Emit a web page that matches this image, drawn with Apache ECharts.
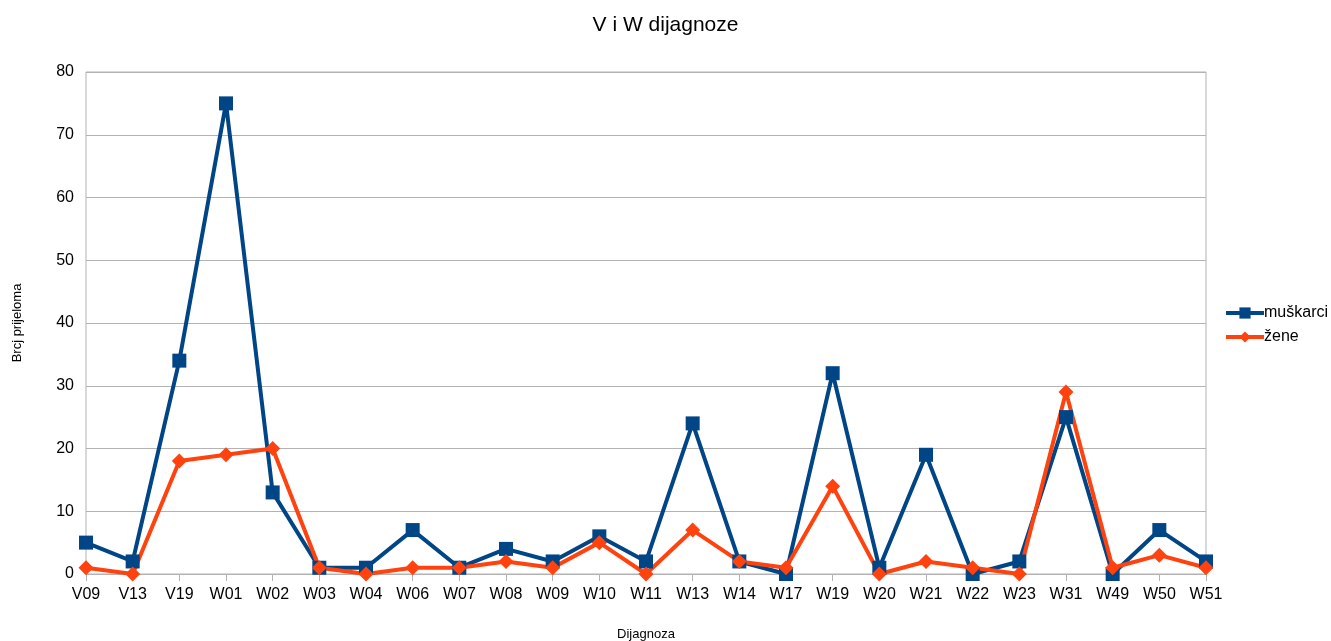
<!DOCTYPE html>
<html>
<head>
<meta charset="utf-8">
<script src="https://cdn.jsdelivr.net/npm/echarts@6/dist/echarts.min.js"></script>
<style>
  html, body { margin: 0; padding: 0; background: #fff; }
  #main { width: 1331px; height: 641px; }
</style>
</head>
<body>
<div id="main"></div>
<script>
var categories = ['V09', 'V13', 'V19', 'W01', 'W02', 'W03', 'W04', 'W06', 'W07', 'W08', 'W09', 'W10', 'W11',
  'W13', 'W14', 'W17', 'W19', 'W20', 'W21', 'W22', 'W23', 'W31', 'W49', 'W50', 'W51'];
var muskarci = [5, 2, 34, 75, 13, 1, 1, 7, 1, 4, 2, 6, 2, 24, 2, 0, 32, 1, 19, 0, 2, 25, 0, 7, 2];
var zene = [1, 0, 18, 19, 20, 1, 0, 1, 1, 2, 1, 5, 0, 7, 2, 1, 14, 0, 2, 1, 0, 29, 1, 3, 1];
var yTicks = { min: 0, max: 80, interval: 10 };

var chart = echarts.init(document.getElementById('main'));
var font = 'Liberation Sans, Arial, sans-serif';

var option = {
  animation: false,
  textStyle: { fontFamily: font },
  title: {
    text: 'V i W dijagnoze',
    left: 'center',
    top: 10,
    textStyle: { fontFamily: font, fontSize: 21, fontWeight: 'normal', color: '#000' }
  },
  legend: {
    orient: 'vertical',
    left: 1219,
    top: 300,
    itemGap: 8,
    itemWidth: 38,
    itemHeight: 14,
    lineStyle: { width: 4 },
    textStyle: { fontFamily: font, fontSize: 16, color: '#000', padding: [0, 0, 0, -5] },
    data: ['muškarci', 'žene']
  },
  grid: {
    left: 86, right: 125, top: 72, bottom: 67,
    outerBoundsMode: 'none',
    show: true, borderColor: '#b3b3b3', borderWidth: 1
  },
  xAxis: {
    type: 'category',
    data: categories,
    boundaryGap: false,
    name: 'Dijagnoza',
    nameLocation: 'middle',
    nameGap: 54,
    nameTextStyle: { fontFamily: font, fontSize: 13, color: '#000' },
    axisLine: { lineStyle: { color: '#b3b3b3', width: 1 } },
    axisTick: { show: true, length: 7, lineStyle: { color: '#b3b3b3' } },
    axisLabel: { fontFamily: font, fontSize: 16, color: '#000', margin: 13 },
    splitLine: { show: false }
  },
  yAxis: {
    type: 'value',
    min: yTicks.min,
    max: yTicks.max,
    interval: yTicks.interval,
    name: 'Brcj prijeloma',
    nameLocation: 'middle',
    nameGap: 62,
    nameTextStyle: { fontFamily: font, fontSize: 13, color: '#000' },
    axisLine: { show: false },
    axisTick: { show: false },
    axisLabel: { fontFamily: font, fontSize: 16, color: '#000', margin: 12 },
    splitLine: { lineStyle: { color: '#b3b3b3', width: 1 } }
  },
  series: [
    {
      name: 'muškarci',
      type: 'line',
      data: muskarci,
      symbol: 'rect',
      symbolSize: 14,
      lineStyle: { color: '#004586', width: 4 },
      itemStyle: { color: '#004586' }
    },
    {
      name: 'žene',
      type: 'line',
      data: zene,
      symbol: 'diamond',
      symbolSize: 15,
      lineStyle: { color: '#ff420e', width: 4 },
      itemStyle: { color: '#ff420e' }
    }
  ]
};

chart.setOption(option);
</script>
</body>
</html>
